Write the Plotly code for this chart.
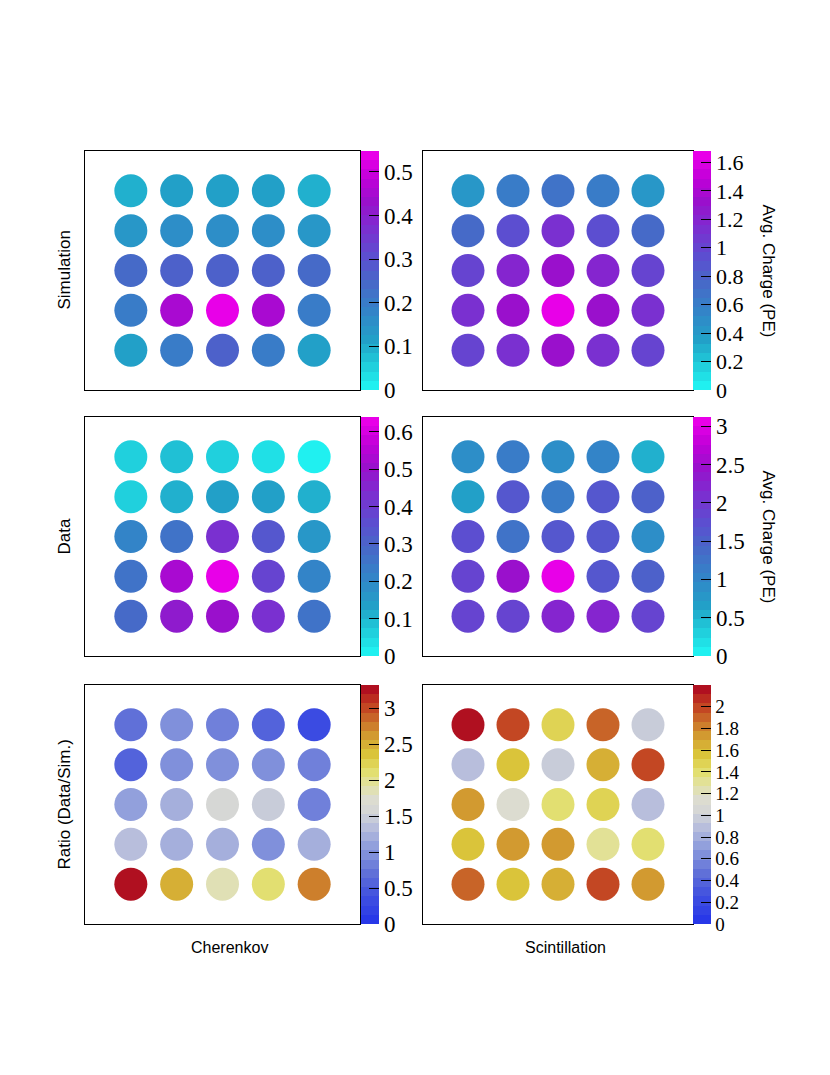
import plotly.graph_objects as go

# ---------------- data (rows top->bottom, columns left->right) ----------------
sim_cherenkov = [
    [0.10, 0.11, 0.11, 0.11, 0.10],
    [0.13, 0.15, 0.16, 0.15, 0.13],
    [0.24, 0.27, 0.27, 0.27, 0.24],
    [0.21, 0.45, 0.548, 0.45, 0.21],
    [0.11, 0.20, 0.27, 0.20, 0.11],
]
sim_scint = [
    [0.45, 0.60, 0.68, 0.60, 0.45],
    [0.72, 0.95, 1.10, 0.95, 0.72],
    [0.98, 1.20, 1.30, 1.20, 0.98],
    [1.10, 1.30, 1.68, 1.30, 1.10],
    [0.98, 1.10, 1.30, 1.10, 0.98],
]
data_cherenkov = [
    [0.05, 0.09, 0.07, 0.04, 0.01],
    [0.06, 0.12, 0.14, 0.13, 0.11],
    [0.22, 0.26, 0.44, 0.33, 0.15],
    [0.25, 0.53, 0.64, 0.38, 0.21],
    [0.29, 0.49, 0.50, 0.44, 0.26],
]
data_scint = [
    [0.90, 1.15, 0.90, 1.05, 0.50],
    [0.70, 1.60, 1.15, 1.60, 1.45],
    [1.75, 1.30, 1.65, 1.65, 0.90],
    [1.80, 2.45, 3.12, 1.65, 1.45],
    [1.90, 1.80, 2.20, 2.25, 1.80],
]
ratio_cherenkov = [
    [0.75, 1.00, 0.85, 0.60, 0.30],
    [0.60, 0.95, 0.95, 1.00, 0.80],
    [1.10, 1.15, 1.65, 1.45, 0.80],
    [1.35, 1.25, 1.25, 0.95, 1.25],
    [3.32, 2.55, 1.85, 2.10, 2.70],
]
ratio_scint = [
    [2.20, 2.00, 1.45, 1.90, 0.95],
    [0.92, 1.58, 1.00, 1.62, 2.00],
    [1.75, 1.12, 1.40, 1.45, 0.90],
    [1.58, 1.75, 1.75, 1.32, 1.42],
    [1.90, 1.55, 1.62, 1.95, 1.70],
]

row_titles = ["Simulation", "Data", "Ratio (Data/Sim.)"]
col_titles = ["Cherenkov", "Scintillation"]
zaxis_title = "Avg. Charge (PE)"

ticks_sim_cher = [0, 0.1, 0.2, 0.3, 0.4, 0.5]
ticks_sim_scint = [0, 0.2, 0.4, 0.6, 0.8, 1, 1.2, 1.4, 1.6]
ticks_data_cher = [0, 0.1, 0.2, 0.3, 0.4, 0.5, 0.6]
ticks_data_scint = [0, 0.5, 1, 1.5, 2, 2.5, 3]
ticks_ratio_cher = [0, 0.5, 1, 1.5, 2, 2.5, 3]
ticks_ratio_scint = [0, 0.2, 0.4, 0.6, 0.8, 1, 1.2, 1.4, 1.6, 1.8, 2]

# ---------------- palettes ----------------
pal_charge = [
    (0.00, "#20f0f0"), (0.10, "#20c8d8"), (0.20, "#22a0c8"), (0.33, "#3482c8"),
    (0.45, "#4868c8"), (0.55, "#5a50d0"), (0.68, "#7a30d0"), (0.80, "#9a10cc"),
    (0.90, "#c000d8"), (1.00, "#e800e8"),
]
pal_ratio = [
    (0.00, "#2838e8"), (0.10, "#4050e0"), (0.20, "#6070d8"), (0.30, "#8898dc"),
    (0.40, "#b8bedc"), (0.47, "#d4d6d6"), (0.52, "#dcdcd0"), (0.58, "#e2e2a8"),
    (0.65, "#e2de68"), (0.72, "#dac43a"), (0.80, "#d29a30"), (0.88, "#c86428"),
    (0.94, "#c03820"), (1.00, "#b01020"),
]
NBANDS = 26


def hex2rgb(h):
    h = h.lstrip("#")
    return [int(h[i:i + 2], 16) for i in (0, 2, 4)]


def interp(stops, t):
    for (t0, c0), (t1, c1) in zip(stops[:-1], stops[1:]):
        if t <= t1:
            f = 0 if t1 == t0 else (t - t0) / (t1 - t0)
            a, b = hex2rgb(c0), hex2rgb(c1)
            return "rgb(%d,%d,%d)" % tuple(round(a[k] + f * (b[k] - a[k])) for k in range(3))
    return "rgb(%d,%d,%d)" % tuple(hex2rgb(stops[-1][1]))


def stepped(stops, n):
    cs = []
    for i in range(n):
        c = interp(stops, i / (n - 1))
        cs.append([i / n, c])
        cs.append([(i + 1) / n, c])
    return cs


# (values, palette, ticks, row, col, tick font size)
panels = [
    (sim_cherenkov, pal_charge, ticks_sim_cher, 0, 0, 23),
    (sim_scint, pal_charge, ticks_sim_scint, 0, 1, 22),
    (data_cherenkov, pal_charge, ticks_data_cher, 1, 0, 23),
    (data_scint, pal_charge, ticks_data_scint, 1, 1, 23),
    (ratio_cherenkov, pal_ratio, ticks_ratio_cher, 2, 0, 23),
    (ratio_scint, pal_ratio, ticks_ratio_scint, 2, 1, 19),
]

W, H = 830, 1075
OFF = 8  # page body margin
col_px = [(85 - OFF, 360 - OFF), (423 - OFF, 693 - OFF)]
row_px = [(151 - OFF, 390 - OFF), (417 - OFF, 656 - OFF), (685 - OFF, 924 - OFF)]
cbar_px = [361 - OFF, 693 - OFF]

fig = go.Figure()
for k, (grid, pal, tks, r, c, fs) in enumerate(panels):
    xs, ys, zs = [], [], []
    for i, row in enumerate(grid):
        for j, v in enumerate(row):
            xs.append(j + 1)
            ys.append(i + 1)
            zs.append(v)
    zmax = max(zs)
    n = k + 1
    xa = "x" if n == 1 else "x%d" % n
    ya = "y" if n == 1 else "y%d" % n
    top, bot = row_px[r]
    fig.add_trace(go.Scatter(
        x=xs, y=ys, mode="markers", xaxis=xa, yaxis=ya, hoverinfo="skip",
        marker=dict(
            size=33, color=zs, cmin=0, cmax=zmax, colorscale=stepped(pal, NBANDS),
            line=dict(width=0), showscale=True,
            colorbar=dict(
                x=cbar_px[c] / W, xanchor="left", xpad=0, ypad=0,
                y=1 - (top + bot) / 2 / H, yanchor="middle",
                len=(bot - top) / H, lenmode="fraction", thickness=18,
                outlinewidth=0, ticks="inside", ticklen=10, tickwidth=1,
                tickcolor="black", tickvals=tks, ticktext=[str(t) for t in tks],
                tickfont=dict(family="Liberation Serif", size=fs, color="black"),
            ),
        ),
        showlegend=False,
    ))
    x0, x1 = col_px[c]
    fig.layout["xaxis" if n == 1 else "xaxis%d" % n] = dict(
        domain=[x0 / W, x1 / W], range=[0, 6], showgrid=False, zeroline=False,
        showticklabels=False, ticks="", showline=True, linecolor="black",
        linewidth=1, mirror=True, anchor=ya,
    )
    fig.layout["yaxis" if n == 1 else "yaxis%d" % n] = dict(
        domain=[1 - bot / H, 1 - top / H], range=[6, 0], showgrid=False,
        zeroline=False, showticklabels=False, ticks="", showline=True,
        linecolor="black", linewidth=1, mirror=True, anchor=xa,
    )

ann = []
sans = dict(family="Liberation Sans", size=17, color="black")
for r, t in enumerate(row_titles):
    top, bot = row_px[r]
    ann.append(dict(text=t, x=(64 - OFF) / W, y=1 - (top + bot) / 2 / H, xref="paper",
                    yref="paper", textangle=-90, showarrow=False, font=sans,
                    xanchor="center", yanchor="middle"))
for r in range(2):
    top, bot = row_px[r]
    ann.append(dict(text=zaxis_title, x=(768 - OFF) / W, y=1 - (top + bot) / 2 / H,
                    xref="paper", yref="paper", textangle=90, showarrow=False, font=sans,
                    xanchor="center", yanchor="middle"))
for c, t in enumerate(col_titles):
    ann.append(dict(text=t, x=([229, 565][c] - OFF) / W, y=1 - (947 - OFF) / H,
                    xref="paper", yref="paper", showarrow=False,
                    font=dict(family="Liberation Sans", size=16, color="black"),
                    xanchor="center", yanchor="middle"))

fig.update_layout(
    width=W, height=H, margin=dict(l=0, r=0, t=0, b=0),
    paper_bgcolor="white", plot_bgcolor="white", annotations=ann,
)
fig.write_html("out.html")
